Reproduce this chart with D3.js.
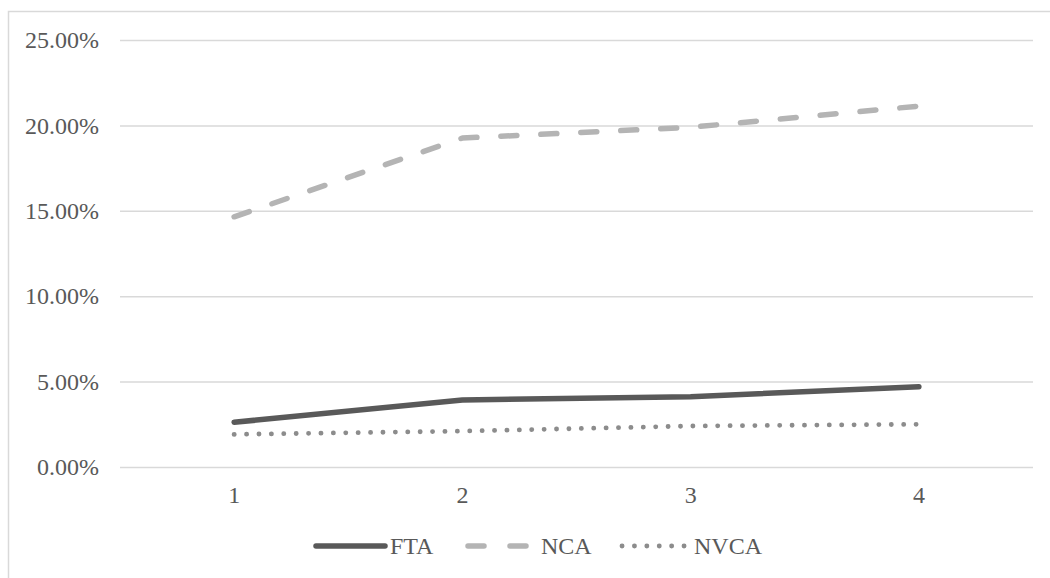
<!DOCTYPE html>
<html lang="en">
<head>
  <meta charset="UTF-8">
  <title>Line Chart</title>
  <script src="https://d3js.org/d3.v7.min.js"></script>
  <style>
    body { margin: 0; background: #fff; }
    text { font-family: 'Liberation Serif', 'Times New Roman', serif; fill: #595959; }
  </style>
</head>
<body>
  <div id="canvas"></div>
  <script>
    const categories = ['1', '2', '3', '4'];
    const fta = [0.0262, 0.0392, 0.0412, 0.0470];
    const nca = [0.1465, 0.1926, 0.1989, 0.2113];
    const nvca = [0.0191, 0.0210, 0.0240, 0.0250];
    const yTicks = [0, 0.05, 0.10, 0.15, 0.20, 0.25];

    const width = 1050;
    const height = 578;
    const plotLeft = 120, plotRight = 1033, plotTop = 40, plotBottom = 467;
    const fontSize = '24px';

    const series = [
      { name: 'FTA', values: fta, color: '#595959', dash: null, width: 5.5 },
      { name: 'NCA', values: nca, color: '#b4b4b4', dash: '16 24', width: 5.5 },
      { name: 'NVCA', values: nvca, color: '#8c8c8c', dash: '0.1 12.3', width: 4.8 }
    ];

    const svg = d3.select('#canvas')
      .append('svg')
      .attr('width', width)
      .attr('height', height);

    // chart border (right and bottom edges fall outside the picture)
    svg.append('rect')
      .attr('x', 8.5)
      .attr('y', 11.5)
      .attr('width', 1060)
      .attr('height', 580)
      .attr('fill', 'none')
      .attr('stroke', '#d9d9d9')
      .attr('stroke-width', 1.5);

    const scaleX = d3.scaleBand().domain(categories).range([plotLeft, plotRight]);
    const scaleY = d3.scaleLinear().domain([0, 0.25]).range([plotBottom, plotTop]);
    const xPos = d => scaleX(d) + scaleX.bandwidth() / 2;

    const yAxis = d3.axisLeft(scaleY)
      .tickValues(yTicks)
      .tickSize(-(plotRight - plotLeft))
      .tickPadding(21)
      .tickFormat(d3.format('.2%'));
    svg.append('g')
      .attr('transform', 'translate(' + plotLeft + ',0)')
      .call(yAxis)
      .call(g => g.select('.domain').remove())
      .call(g => g.selectAll('line').attr('stroke', '#d9d9d9').attr('stroke-width', 1.5))
      .call(g => g.selectAll('text')
        .attr('dy', '0.32em')
        .style('font-size', fontSize)
        .style('fill', '#595959'));

    const xAxis = d3.axisBottom(scaleX).tickSize(0).tickPadding(19);
    svg.append('g')
      .attr('transform', 'translate(0,' + plotBottom + ')')
      .call(xAxis)
      .call(g => g.select('.domain').remove())
      .call(g => g.selectAll('text')
        .style('font-size', fontSize)
        .style('fill', '#595959'));

    const line = d3.line()
      .x((d, i) => xPos(categories[i]))
      .y(d => scaleY(d));

    series.forEach(s => {
      svg.append('path')
        .datum(s.values)
        .attr('d', line)
        .attr('fill', 'none')
        .attr('stroke', s.color)
        .attr('stroke-width', s.width)
        .attr('stroke-linecap', 'round')
        .attr('stroke-linejoin', 'round')
        .attr('stroke-dasharray', s.dash);
    });

    // legend
    const legendY = 546;
    const legendItems = [
      { x: 316, len: 69, textX: 390 },
      { x: 468, len: 62, textX: 541 },
      { x: 622, len: 64, textX: 694 }
    ];
    series.forEach((s, i) => {
      const it = legendItems[i];
      svg.append('line')
        .attr('x1', it.x)
        .attr('x2', it.x + it.len)
        .attr('y1', legendY)
        .attr('y2', legendY)
        .attr('stroke', s.color)
        .attr('stroke-width', s.width)
        .attr('stroke-linecap', 'round')
        .attr('stroke-dasharray', i === 1 ? '16 26' : s.dash);
      svg.append('text')
        .attr('x', it.textX)
        .attr('y', legendY + 8)
        .style('font-size', fontSize)
        .text(s.name);
    });
  </script>
</body>
</html>
